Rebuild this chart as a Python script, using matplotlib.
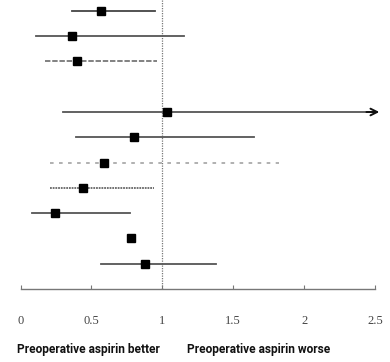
import matplotlib
matplotlib.use("Agg")
import matplotlib.pyplot as plt
import numpy as np

# Data (odds ratios and 95% CI), top to bottom; row 3 is empty
rows = [0, 1, 2, 4, 5, 6, 7, 8, 9, 10]
estimates = [0.57, 0.36, 0.40, 1.03, 0.80, 0.59, 0.44, 0.24, 0.78, 0.88]
ci_low = [0.36, 0.11, 0.17, 0.30, 0.39, 0.21, 0.21, 0.08, 0.77, 0.57]
ci_high = [0.95, 1.15, 0.96, 2.60, 1.65, 1.82, 0.94, 0.77, 0.79, 1.38]
line_styles = ['-', '-', (0, (3, 1)), '-', '-', (0, (2, 3)), (0, (1, 0.5)), '-', '-', '-']
line_colors = ['#444444', '#555555', '#777777', '#555555', '#555555', '#aaaaaa', '#666666', '#555555', '#555555', '#555555']
xticks = [0, 0.5, 1, 1.5, 2, 2.5]
xtick_labels = ['0', '0.5', '1', '1.5', '2', '2.5']
label_left = 'Preoperative aspirin better'
label_right = 'Preoperative aspirin worse'

fig = plt.figure(figsize=(3.9, 3.62), dpi=100)
ax = fig.add_axes([20.5 / 390, 1 - 289 / 362, (375 - 20.5) / 390, 289 / 362])
ax.set_xlim(0, 2.5)
ax.set_ylim(11, -0.43)

# Reference line at 1
ax.plot([1, 1], [-0.43, 11], linestyle=(0, (1, 1)), color='#777777', lw=0.9, zorder=1)

for r, est, lo, hi, ls, lc in zip(rows, estimates, ci_low, ci_high, line_styles, line_colors):
    if hi > 2.5:
        ax.plot([lo, 2.5], [r, r], linestyle=ls, color=lc, lw=1.3, zorder=2, clip_on=False)
        ax.annotate('', xy=(2.55, r), xytext=(2.42, r),
                    arrowprops=dict(arrowstyle='->', color='#111111', lw=1.4,
                                    mutation_scale=12),
                    annotation_clip=False)
    else:
        ax.plot([lo, hi], [r, r], linestyle=ls, color=lc, lw=1.3, zorder=2)
    ax.plot(est, r, marker='s', color='black', markersize=5.5, zorder=3, linestyle='none')

for s in ['top', 'left', 'right']:
    ax.spines[s].set_visible(False)
ax.spines['bottom'].set_color('#777777')
ax.spines['bottom'].set_linewidth(1.0)
ax.set_yticks([])
ax.set_xticks(xticks)
ax.set_xticklabels(xtick_labels, family='Liberation Serif', fontsize=9, color='#444444')
ax.tick_params(axis='x', direction='in', length=3, color='#777777', pad=19)

fig.text(17 / 390, 1 - 350 / 362, label_left, fontsize=8.6, fontweight='bold',
         family='Roboto', va='center', ha='left', color='#111111')
fig.text(187 / 390, 1 - 350 / 362, label_right, fontsize=8.6, fontweight='bold',
         family='Roboto', va='center', ha='left', color='#111111')

fig.savefig('out.png', dpi=100)
